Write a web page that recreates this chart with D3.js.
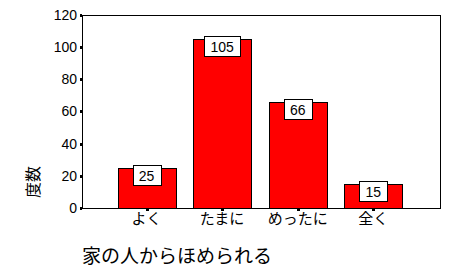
<!DOCTYPE html>
<html>
<head>
<meta charset="utf-8">
<script src="https://cdn.jsdelivr.net/npm/d3@7"></script>
<style>
  body { margin: 0; background: #fff; }
  text { font-family: "Liberation Sans", Arial, sans-serif; }
  .jp { font-family: "Noto Sans CJK JP", sans-serif; }
</style>
</head>
<body>
<div id="chart-area"></div>
<script>
// data
var categories = ["よく", "たまに", "めったに", "全く"];
var counts = [25, 105, 66, 15];
var yTicks = [0, 20, 40, 60, 80, 100, 120];
var xTitle = "家の人からほめられる";
var yTitle = "度数";

var W = 453, H = 272;
var plot = { left: 82, right: 440, top: 14.5, bottom: 208 };

var svg = d3.select("#chart-area")
    .append("svg")
    .attr("width", W)
    .attr("height", H);

// Scales
var x = d3.scalePoint().domain(categories).range([146.5, 373.3]);
var y = d3.scaleLinear().domain([0, 120]).range([plot.bottom, plot.top]);
var barW = 58;

// frame
svg.append("rect")
    .attr("x", plot.left + 0.5)
    .attr("y", Math.round(plot.top) + 0.5)
    .attr("width", plot.right - plot.left)
    .attr("height", plot.bottom - Math.round(plot.top))
    .attr("fill", "none")
    .attr("stroke", "#000")
    .attr("stroke-width", 1);

// y ticks
var yg = svg.append("g");
yTicks.forEach(function(v) {
    yg.append("rect")
        .attr("x", plot.left - 2)
        .attr("y", Math.round(y(v)) - 1)
        .attr("width", 2)
        .attr("height", 3)
        .attr("fill", "#000");
    yg.append("text")
        .attr("x", plot.left - 5)
        .attr("y", y(v) + 5)
        .attr("text-anchor", "end")
        .attr("font-size", "14px")
        .text(v);
});

// bars
svg.selectAll(".bar").data(counts).enter()
    .append("rect")
    .attr("class", "bar")
    .attr("x", function(d, i) { return Math.round(x(categories[i]) - barW / 2) + 0.5; })
    .attr("y", function(d) { return Math.round(y(d)) + 0.5; })
    .attr("width", barW)
    .attr("height", function(d) { return plot.bottom - Math.round(y(d)); })
    .attr("fill", "#ff0000")
    .attr("stroke", "#000")
    .attr("stroke-width", 1);

// x ticks + labels
categories.forEach(function(c) {
    svg.append("rect")
        .attr("x", Math.round(x(c)) - 1)
        .attr("y", plot.bottom + 1)
        .attr("width", 3)
        .attr("height", 2)
        .attr("fill", "#000");
    svg.append("text")
        .attr("class", "jp")
        .attr("x", x(c))
        .attr("y", 224)
        .attr("text-anchor", "middle")
        .attr("font-size", "15px")
        .text(c);
});

// value boxes
counts.forEach(function(d, i) {
    var cx = x(categories[i]);
    var bw = String(d).length > 2 ? 36 : 28;
    var by = Math.round(y(d)) - 3;
    svg.append("rect")
        .attr("x", Math.round(cx - bw / 2) + 0.5)
        .attr("y", by + 0.5)
        .attr("width", bw)
        .attr("height", 20)
        .attr("fill", "#fff")
        .attr("stroke", "#000");
    svg.append("text")
        .attr("x", cx)
        .attr("y", by + 16)
        .attr("text-anchor", "middle")
        .attr("font-size", "14px")
        .text(d);
});

// axis titles
svg.append("text")
    .attr("class", "jp")
    .attr("transform", "translate(39,182) rotate(-90)")
    .attr("text-anchor", "middle")
    .attr("font-size", "16px")
    .text(yTitle);

svg.append("text")
    .attr("class", "jp")
    .attr("x", 82)
    .attr("y", 263)
    .attr("font-size", "19px")
    .text(xTitle);
</script>
</body>
</html>
